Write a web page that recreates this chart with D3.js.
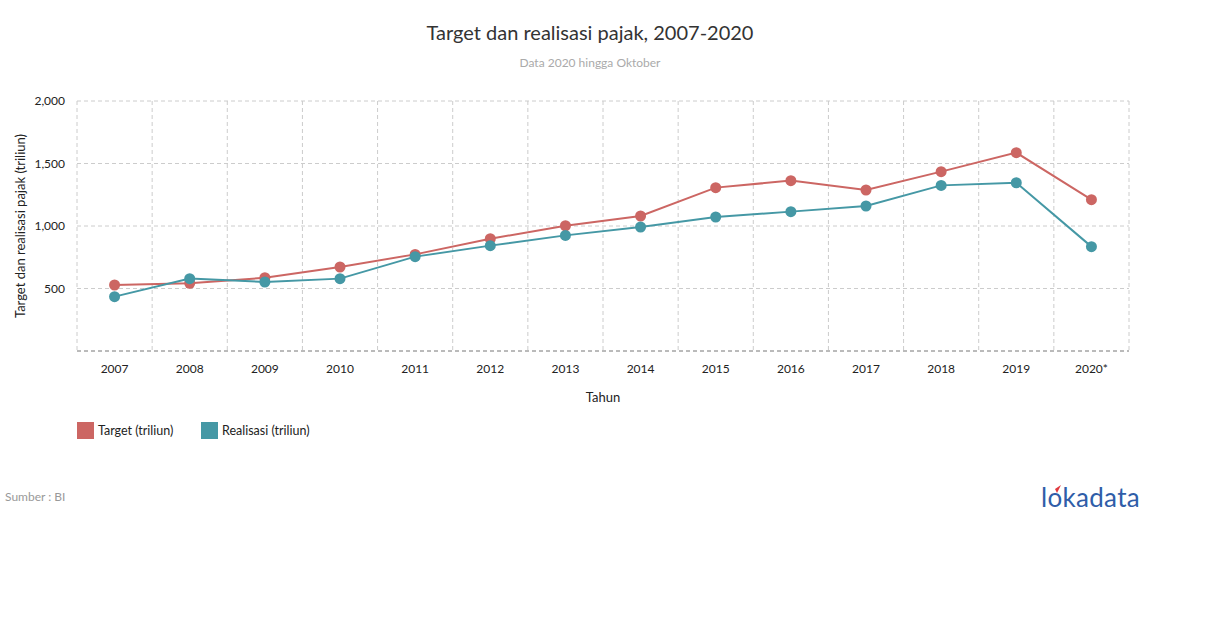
<!DOCTYPE html>
<html><head><meta charset="utf-8">
<script src="https://cdn.jsdelivr.net/npm/d3@7"></script>
<style>body{margin:0;background:#fff;font-family:Lato,"Open Sans",sans-serif;}</style>
</head><body><svg id="c" width="1210" height="628"></svg>
<script>
const years = ["2007","2008","2009","2010","2011","2012","2013","2014","2015","2016","2017","2018","2019","2020*"];
const target = [528,542,586,672,773,898,1002,1080,1307,1363,1288,1435,1587,1211];
const realisasi = [435,579,552,579,755,843,925,992,1072,1115,1160,1325,1346,835];
const yTicks = [500,1000,1500,2000];
const seriesNames = ["Target (triliun)","Realisasi (triliun)"];
const colors = ["#cc6663","#4598a5"];

const svg = d3.select("#c");
const L=77,R=1129,T=101,B=351;
const x = d3.scaleBand().domain(years).range([L,R]);
const y = d3.scaleLinear().domain([0,2000]).range([B,T]);

svg.append("text").attr("x",590).attr("y",40).attr("text-anchor","middle").attr("font-size",20).attr("fill","#333").text("Target dan realisasi pajak, 2007-2020");
svg.append("text").attr("x",590).attr("y",67).attr("text-anchor","middle").attr("font-size",12).attr("fill","#aaa").text("Data 2020 hingga Oktober");

// grid
const g = svg.append("g");
g.selectAll(".hg").data(yTicks).join("line").attr("x1",L).attr("x2",R).attr("y1",d=>y(d)).attr("y2",d=>y(d)).attr("stroke","#ccc").attr("stroke-dasharray","4,3");
const vb = years.map(d=>x(d)).concat([R]);
g.selectAll(".vg").data(vb).join("line").attr("x1",d=>d).attr("x2",d=>d).attr("y1",T).attr("y2",B).attr("stroke","#ccc").attr("stroke-dasharray","4,3");
g.append("line").attr("x1",L).attr("x2",R).attr("y1",B).attr("y2",B).attr("stroke","#777").attr("stroke-dasharray","4,3");

// y axis
const ya = svg.append("g").attr("transform",`translate(${L},0)`).call(d3.axisLeft(y).tickValues(yTicks).tickSize(0).tickPadding(12).tickFormat(d3.format(",")));
ya.select(".domain").remove();
ya.selectAll("text").attr("font-family","Lato").attr("font-size",12).attr("fill","#222");
// x axis
const xa = svg.append("g").attr("transform",`translate(0,${B})`).call(d3.axisBottom(x).tickSize(0).tickPadding(13));
xa.select(".domain").remove();
xa.selectAll("text").attr("font-family","Lato").attr("font-size",12).attr("fill","#222");

svg.append("text").attr("transform",`translate(25,${(T+B)/2}) rotate(-90)`).attr("text-anchor","middle").attr("font-size",13).attr("fill","#222").text("Target dan realisasi pajak (triliun)");
svg.append("text").attr("x",603).attr("y",402).attr("text-anchor","middle").attr("font-size",13).attr("fill","#222").text("Tahun");

const cx = d=>x(d)+x.bandwidth()/2;
[target,realisasi].forEach((vals,i)=>{
  const pts = years.map((yr,j)=>[cx(yr),y(vals[j])]);
  svg.append("path").attr("d",d3.line()(pts)).attr("fill","none").attr("stroke",colors[i]).attr("stroke-width",2);
  svg.selectAll(null).data(pts).join("circle").attr("cx",d=>d[0]).attr("cy",d=>d[1]).attr("r",5.5).attr("fill",colors[i]);
});

// legend
const lg = svg.append("g");
const lx=[77,201];
seriesNames.forEach((n,i)=>{
  lg.append("rect").attr("x",lx[i]).attr("y",422).attr("width",17).attr("height",17).attr("fill",colors[i]);
  lg.append("text").attr("x",lx[i]+21).attr("y",435).attr("font-size",12.5).attr("fill","#222").text(n);
});

svg.append("text").attr("x",5).attr("y",501).attr("font-size",12).attr("fill","#999").text("Sumber : BI");
// logo
svg.append("text").attr("x",1140).attr("y",507).attr("text-anchor","end").attr("font-family","Lato").attr("font-size",26).attr("fill","#2f5da8").attr("letter-spacing","0.3").text("lokadata");
svg.append("path").attr("d","M1055,489 L1061,485 L1057,493 Z").attr("fill","#e0393e");
</script></body></html>
